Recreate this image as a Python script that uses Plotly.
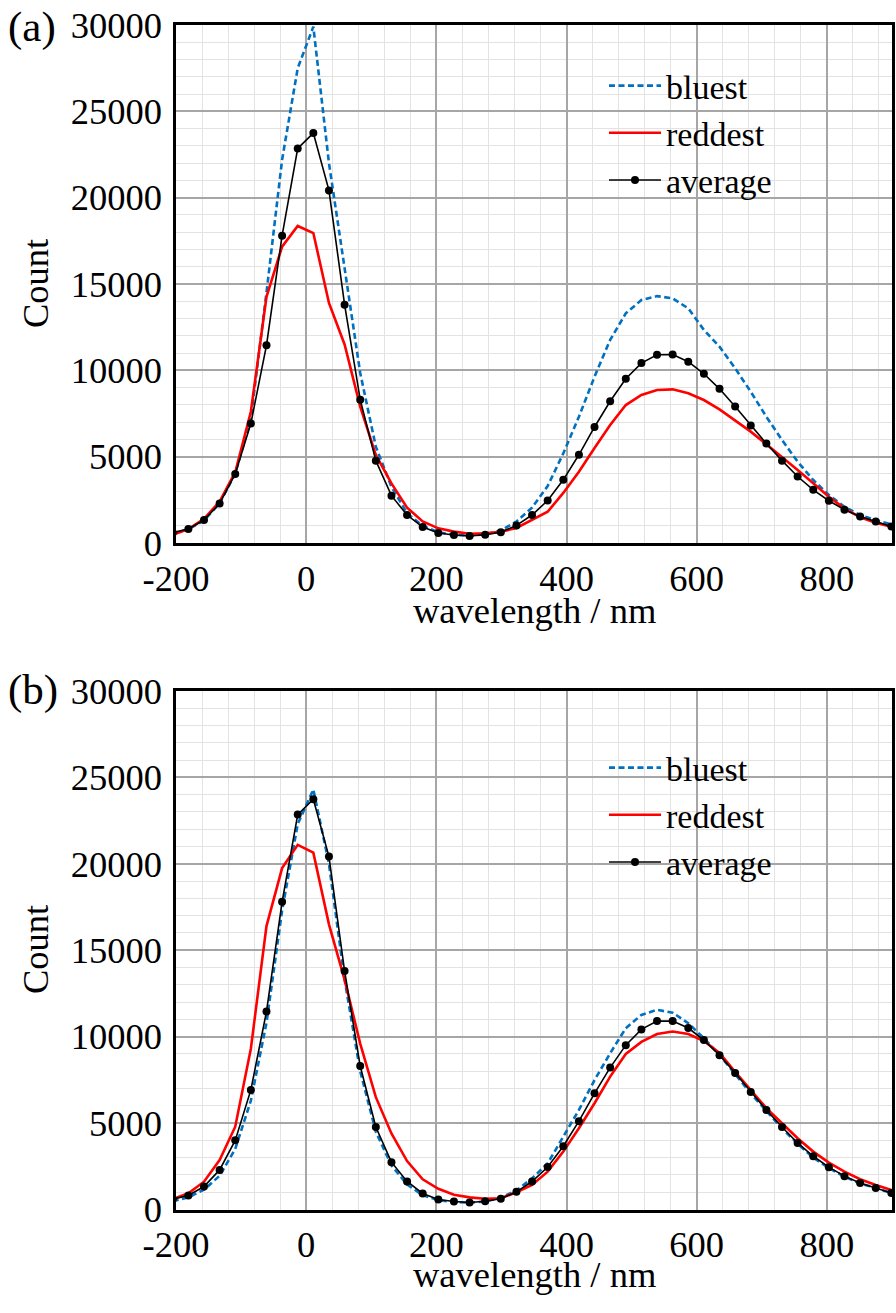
import plotly.graph_objects as go

# ---------------- data ----------------
wavelength = [-205, -181, -157, -133, -109, -85, -61, -37, -13, 11, 35, 59, 83, 107, 131, 155,
              179, 203, 227, 251, 275, 299, 323, 347, 371, 395, 419, 443, 467, 491, 515, 539,
              563, 587, 611, 635, 659, 683, 707, 731, 755, 779, 803, 827, 851, 875, 899]

average = [600, 810, 1330, 2290, 4000, 6920, 11450, 17800, 22850, 23740, 20420, 13800, 8300, 4770, 2740, 1620,
           930, 580, 460, 405, 480, 620, 1020, 1620, 2460, 3660, 5110, 6720, 8210, 9510, 10420, 10900,
           10910, 10500, 9800, 8930, 7900, 6800, 5760, 4770, 3850, 3080, 2450, 1930, 1530, 1250, 950]

bluest_a = [550, 800, 1300, 2300, 4000, 7200, 14500, 22200, 27500, 29900, 22000, 15800, 9850, 5580, 3260, 1720,
            1000, 620, 480, 430, 500, 720, 1240, 2050, 3300, 5190, 7310, 9630, 11760, 13300, 14070, 14300,
            14170, 13590, 12340, 11370, 10120, 8760, 7310, 5970, 4710, 3650, 2780, 2100, 1620, 1330, 1080]

reddest_a = [480, 800, 1400, 2400, 4100, 7600, 14260, 17160, 18360, 17950, 13900, 11500, 7900, 5100, 3450, 2050,
             1250, 850, 660, 540, 560, 650, 870, 1330, 1810, 2900, 4130, 5500, 6830, 7990, 8570, 8860,
             8900, 8670, 8280, 7740, 7120, 6450, 5720, 5000, 4230, 3460, 2680, 2010, 1490, 1180, 945]

bluest_b = [480, 700, 1150, 1950, 3500, 6300, 10800, 17300, 22300, 24300, 20000, 13300, 8000, 4500, 2550, 1450,
            830, 540, 430, 400, 460, 680, 1100, 1800, 2670, 4210, 5760, 7490, 9040, 10490, 11260, 11550,
            11390, 10780, 9910, 8940, 7850, 6720, 5700, 4700, 3800, 3000, 2400, 1900, 1500, 1250, 950]

reddest_b = [600, 940, 1610, 2860, 4790, 9300, 16400, 19750, 21100, 20650, 16500, 13300, 9600, 6500, 4400, 2800,
             1750, 1200, 850, 700, 620, 650, 1000, 1420, 2190, 3350, 4700, 6150, 7690, 9000, 9700, 10150,
             10300, 10150, 9750, 9060, 7970, 6920, 5860, 4990, 4120, 3350, 2710, 2190, 1750, 1420, 1130]

x_ticks = [-200, 0, 200, 400, 600, 800]
y_ticks = [0, 5000, 10000, 15000, 20000, 25000, 30000]
panel_labels = ["(a)", "(b)"]
x_title = "wavelength / nm"
y_title = "Count"

# ---------------- styling ----------------
FONT = "Liberation Serif"
BLUE = "#0070C0"
RED = "#FF0000"
W, H = 896, 1313


def px(xp):
    return xp / W


def py(yp):
    return 1 - yp / H


fig = go.Figure()

panels = [
    (bluest_a, reddest_a, "x", "y", "legend"),
    (bluest_b, reddest_b, "x2", "y2", "legend2"),
]
for i, (blue, red, xa, ya, lg) in enumerate(panels):
    fig.add_trace(go.Scatter(x=wavelength, y=blue, mode="lines", name="bluest",
                             line=dict(color=BLUE, width=2.6, dash="6px,3.5px"),
                             xaxis=xa, yaxis=ya, legend=lg))
    fig.add_trace(go.Scatter(x=wavelength, y=red, mode="lines", name="reddest",
                             line=dict(color=RED, width=2.6),
                             xaxis=xa, yaxis=ya, legend=lg))
    fig.add_trace(go.Scatter(x=wavelength, y=average, mode="lines+markers", name="average",
                             line=dict(color="black", width=1.6),
                             marker=dict(color="black", size=8),
                             xaxis=xa, yaxis=ya, legend=lg))

x_dom = [px(176), px(892)]
y_dom_a = [py(543), py(25)]
y_dom_b = [py(1209.5), py(691)]


def xaxis_cfg(anchor):
    return dict(
        domain=x_dom, anchor=anchor, range=[-200, 900], automargin=False,
        tickmode="array", tickvals=x_ticks, ticktext=[str(v) for v in x_ticks],
        ticks="", ticklabelstandoff=1, ticklabeloverflow="allow",
        showgrid=True, gridcolor="#A6A6A6", gridwidth=1.5,
        minor=dict(dtick=40, tick0=-200, showgrid=True, gridcolor="#E3E3E3", gridwidth=1),
        showline=True, mirror=True, linecolor="black", linewidth=2.5,
        zeroline=False,
        tickfont=dict(family=FONT, size=36.5, color="black"),
    )


def yaxis_cfg(anchor, dom):
    return dict(
        domain=dom, anchor=anchor, range=[0, 30000], automargin=False,
        tickmode="array", tickvals=y_ticks, ticktext=[str(v) for v in y_ticks],
        ticks="", ticklabelstandoff=4, ticklabeloverflow="allow",
        showgrid=True, gridcolor="#A6A6A6", gridwidth=1.5,
        minor=dict(dtick=1000, tick0=0, showgrid=True, gridcolor="#E3E3E3", gridwidth=1),
        showline=True, mirror=True, linecolor="black", linewidth=2.5,
        zeroline=False,
        tickfont=dict(family=FONT, size=36.5, color="black"),
    )


legend_common = dict(
    font=dict(family=FONT, size=34, color="black"),
    bgcolor="rgba(0,0,0,0)", borderwidth=0,
    xanchor="left", yanchor="middle", itemwidth=52,
    traceorder="normal",
)

annots = []
for lab, ylab, ymid, ytitle in [(panel_labels[0], 27, 284, 610), (panel_labels[1], 690, 950, 1274)]:
    annots.append(dict(text=lab, x=px(7), y=py(ylab), xref="paper", yref="paper",
                       xanchor="left", yanchor="middle", showarrow=False, borderpad=0,
                       font=dict(family=FONT, size=43, color="black")))
    annots.append(dict(text=y_title, x=px(35), y=py(ymid), xref="paper", yref="paper",
                       xanchor="center", yanchor="middle", showarrow=False, textangle=-90,
                       font=dict(family=FONT, size=36.5, color="black")))
    annots.append(dict(text=x_title, x=px(534), y=py(ytitle), xref="paper", yref="paper",
                       xanchor="center", yanchor="middle", showarrow=False,
                       font=dict(family=FONT, size=36.5, color="black")))

fig.update_layout(
    width=W, height=H,
    margin=dict(l=0, r=0, t=0, b=0),
    paper_bgcolor="white", plot_bgcolor="white",
    font=dict(family=FONT, size=36, color="black"),
    xaxis=xaxis_cfg("y"),
    yaxis=yaxis_cfg("x", y_dom_a),
    xaxis2=xaxis_cfg("y2"),
    yaxis2=yaxis_cfg("x2", y_dom_b),
    legend=dict(x=px(604), y=py(133), **legend_common),
    legend2=dict(x=px(604), y=py(815), **legend_common),
    showlegend=True,
    annotations=annots,
)

fig.write_html(
    "out.html",
    config={"displayModeBar": False},
    post_script="document.body.style.margin='0';"
                "document.documentElement.style.overflow='hidden';"
                "document.body.style.overflow='hidden';",
)
